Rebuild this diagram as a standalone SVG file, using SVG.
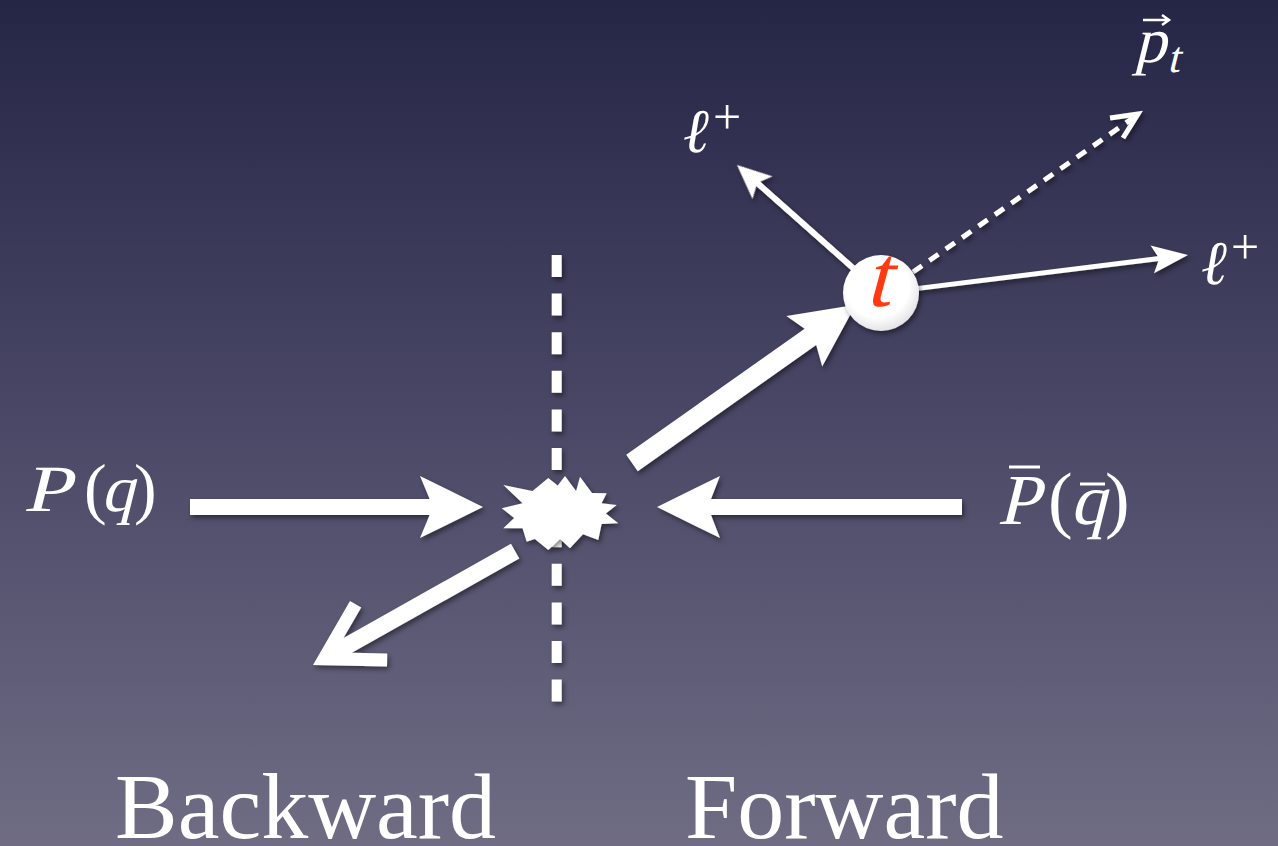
<svg xmlns="http://www.w3.org/2000/svg" width="1278" height="846" viewBox="0 0 1278 846">
<defs>
<linearGradient id="bg" x1="0" y1="0" x2="0" y2="1">
<stop offset="0" stop-color="#252546"/>
<stop offset="0.5" stop-color="#4a4866"/>
<stop offset="1" stop-color="#6f6c84"/>
</linearGradient>
<radialGradient id="ball" cx="0.45" cy="0.4" r="0.6">
<stop offset="0.7" stop-color="#ffffff"/>
<stop offset="1" stop-color="#e4e4e8"/>
</radialGradient>
<filter id="sh" x="-20%" y="-20%" width="140%" height="140%">
<feDropShadow dx="2" dy="3" stdDeviation="2.5" flood-color="#000" flood-opacity="0.45"/>
</filter>
<style>
.w{fill:#fff}
.ln{stroke:#fff;fill:none}
.lbl{font-family:"Liberation Serif","DejaVu Serif",serif;fill:#fff}
.ell{font-family:"DejaVu Serif","Liberation Serif",serif;font-style:italic;fill:#fff}
</style>
</defs>
<rect x="0" y="0" width="1278" height="846" fill="url(#bg)"/>

<g id="connectors" filter="url(#sh)">
<line class="ln" x1="556.7" y1="255" x2="556.7" y2="702" stroke-width="10" stroke-dasharray="22 16.6"/>
<polygon class="w" points="190,499 429.6,499 420,476 483,507 420,538 429.6,515 190,515"/>
<polygon class="w" points="962,499 711,499 720,476 657,507 720,538 711,515 962,515"/>
<polygon class="w" transform="translate(632,463) rotate(-35.26)" points="0,-10 218.5,-10 211,-31 274,0 211,31 218.5,10 0,10"/>
<polygon class="w" transform="translate(313,665) rotate(-29.4)" points="0,0 63.7,-37.7 70.3,-26.5 39.8,-8.5 232,-8.5 232,8.5 39.8,8.5 70.3,26.5 63.7,37.7"/>
<g transform="translate(737,165) rotate(41.6)">
<line class="ln" x1="27" y1="0" x2="170" y2="0" stroke-width="6"/>
<polygon class="w" points="0,0 34,-15 27,0 34,15"/>
</g>
<g transform="translate(1188,255) rotate(172.94)">
<line class="ln" x1="29" y1="0" x2="290" y2="0" stroke-width="5"/>
<polygon class="w" points="0,0 36,-14 29,0 36,14"/>
</g>
<line class="ln" x1="913" y1="272" x2="1133" y2="118" stroke-width="5" stroke-dasharray="11 9"/>
<polyline class="ln" points="1110,118 1138,114 1123,138" stroke-width="5" stroke-linejoin="miter"/>
</g>

<g id="collision" filter="url(#sh)">
<polygon class="w" points="501.7,508.3 522.5,503.3 503.3,485 532.5,490.9 548.3,478 557.7,485.5 565,476 576.1,490.9 580,476.7 592,493.1 606.7,493.3 601.6,503.3 616.7,505 605.9,513.6 618.3,523.3 601.6,524.1 598.3,540 583,534.3 570,548.3 560,539 548.3,550 534.8,539 526.7,541.7 522.5,528.3 503.3,528.3 514.1,517.9"/>
</g>

<g id="top-quark">
<circle cx="881" cy="293" r="38" fill="url(#ball)" filter="url(#sh)"/>
<text transform="translate(865,306) skewX(-15)" x="0" y="0" font-family="Liberation Serif, serif" font-size="88" fill="#ff3a12">t</text>
</g>

<g id="label-Pq">
<text class="lbl" transform="translate(23,511) skewX(-14) scale(1.3,1)" font-size="66">P</text>
<text class="lbl" x="84" y="511" font-size="68">(</text>
<text class="lbl" transform="translate(101,511) skewX(-14)" font-size="66">q</text>
<text class="lbl" x="134" y="511" font-size="68">)</text>
</g>
<g id="label-Pbar">
<text class="lbl" transform="translate(997,524) skewX(-14) scale(1.05,1)" font-size="72">P</text>
<text class="lbl" x="1048" y="524" font-size="74">(</text>
<text class="lbl" transform="translate(1070,524) skewX(-14)" font-size="72">q</text>
<text class="lbl" x="1105" y="524" font-size="74">)</text>
<line class="ln" x1="1009" y1="467" x2="1040" y2="467" stroke-width="3"/>
<line class="ln" x1="1080" y1="484" x2="1105" y2="484" stroke-width="3"/>
</g>
<g id="label-pt">
<text class="lbl" transform="translate(1134,62) skewX(-14)" font-size="64">p</text>
<text class="lbl" transform="translate(1167,72) skewX(-14)" font-size="44">t</text>
<path class="ln" d="M1143,20 L1168,20 M1162,15 L1169,20 L1162,25" stroke-width="2.5"/>
</g>
<g id="label-l1">
<text class="ell" x="683" y="152" font-size="62">ℓ</text>
<text class="lbl" x="713" y="134" font-size="50">+</text>
</g>
<g id="label-l2">
<text class="ell" x="1201" y="284" font-size="62">ℓ</text>
<text class="lbl" x="1231" y="264" font-size="50">+</text>
</g>
<g id="label-backward">
<text class="lbl" x="115" y="838" font-size="94">Backward</text>
</g>
<g id="label-forward">
<text class="lbl" x="685" y="838" font-size="94">Forward</text>
</g>
</svg>
